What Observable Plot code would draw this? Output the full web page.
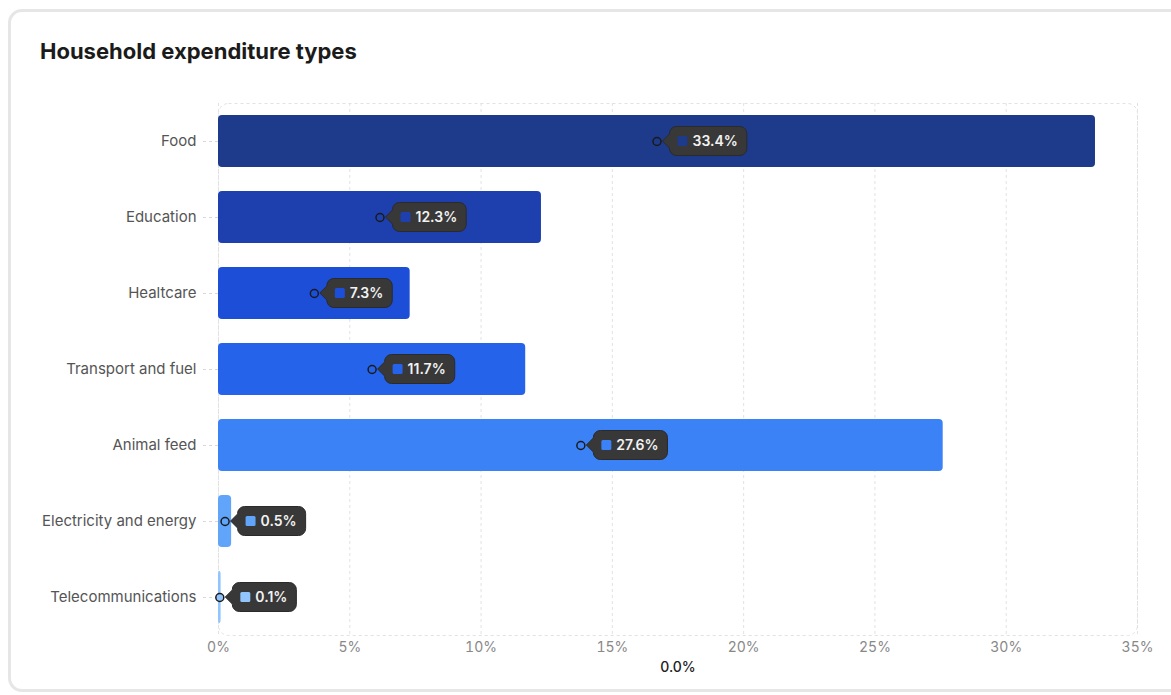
<!DOCTYPE html>
<html><head><meta charset="utf-8">
<script src="https://cdn.jsdelivr.net/npm/d3@7"></script>
<script src="https://cdn.jsdelivr.net/npm/@observablehq/plot@0.6"></script>
<style>
html,body{margin:0;padding:0;background:#fff;width:1171px;height:695px;overflow:hidden;font-family:Inter,sans-serif}
#card{position:absolute;left:8px;top:9px;width:1200px;height:683px;border:3px solid #e6e6e6;border-radius:14px;box-sizing:border-box}
#title{position:absolute;left:40px;top:37px;font:700 22px Inter,sans-serif;color:#1b1b1b;line-height:28px}
#chart{position:absolute;left:0;top:0}
</style></head><body>
<div id="card"></div>
<div id="title">Household expenditure types</div>
<div id="chart"></div>
<script>
const categories = ["Food", "Education", "Healtcare", "Transport and fuel", "Animal feed", "Electricity and energy", "Telecommunications"];
const values = [33.4, 12.3, 7.3, 11.7, 27.6, 0.5, 0.1];
const colors = ["#1e3a8a", "#1e40af", "#1d4ed8", "#2563eb", "#3b82f6", "#60a5fa", "#93c5fd"];
const xTicks = [0, 5, 10, 15, 20, 25, 30, 35];
const axisLabel = "0.0%";

const data = categories.map((c, i) => ({category: c, value: values[i], color: colors[i]}));

function tooltips(index, scales) {
  const x = scales.x, y = scales.y;
  const bw = y.bandwidth ? y.bandwidth() : 0;
  const g = d3.create("svg:g");
  const ctx = document.createElement("canvas").getContext("2d");
  ctx.font = "600 14px Inter";
  for (const d of data) {
    const cx = x(d.value / 2), cy = y(d.category) + bw / 2;
    const label = d.value.toFixed(1) + "%";
    const tw = ctx.measureText(label).width;
    const x0 = cx + 13, w = 8 + 10 + 5 + tw + 9, h = 29, r = 7, y0 = cy - h / 2;
    const p = d3.path();
    p.moveTo(cx + 6, cy);
    p.lineTo(x0, cy - 7);
    p.lineTo(x0, y0 + r);
    p.arcTo(x0, y0, x0 + r, y0, r);
    p.lineTo(x0 + w - r, y0);
    p.arcTo(x0 + w, y0, x0 + w, y0 + r, r);
    p.lineTo(x0 + w, y0 + h - r);
    p.arcTo(x0 + w, y0 + h, x0 + w - r, y0 + h, r);
    p.lineTo(x0 + r, y0 + h);
    p.arcTo(x0, y0 + h, x0, y0 + h - r, r);
    p.lineTo(x0, cy + 7);
    p.closePath();
    g.append("path").attr("d", p.toString()).attr("fill", "#383838").attr("stroke", "#2a2a2a").attr("stroke-width", 1);
    g.append("rect").attr("x", x0 + 8).attr("y", cy - 5).attr("width", 10).attr("height", 10).attr("rx", 1.5).attr("fill", d.color);
    g.append("text").attr("x", x0 + 23).attr("y", cy).attr("dy", "0.35em").attr("text-anchor", "start")
      .attr("fill", "#f2f2f2").attr("font-size", 14).attr("font-weight", 600).attr("font-family", "Inter").text(label);
  }
  return g.node();
}

const chart = Plot.plot({
  width: 1171,
  height: 695,
  marginLeft: 218,
  marginRight: 34,
  marginTop: 103,
  marginBottom: 60,
  style: {fontFamily: "Inter, sans-serif", background: "transparent"},
  x: {domain: [0, 35]},
  y: {domain: categories, paddingInner: 0.316, paddingOuter: 0.158},
  color: {type: "identity"},
  marks: [
    Plot.gridX(xTicks, {stroke: "#e2e2e2", strokeOpacity: 1, strokeDasharray: "3,3"}),
    Plot.frame({stroke: "#e2e2e2", strokeDasharray: "3,3", rx: 10}),
    Plot.axisX(xTicks, {tickSize: 0, tickPadding: 7, tickFormat: d => d + "%", fontSize: 14, fill: "#888", label: null}),
    Plot.axisY({tickSize: 18, tickPadding: 4, fontSize: 15, fill: "#555", stroke: "#d8d8d8", strokeDasharray: "3,3", label: null}),
    Plot.barX(data, {x: "value", y: "category", fill: "color", rx: 4}),
    Plot.dot(data, {x: d => d.value / 2, y: "category", r: 4, fill: "color", stroke: "#1a1a1a", strokeWidth: 1.5}),
    tooltips,
    Plot.text([axisLabel], {text: d => d, frameAnchor: "bottom", dy: 36, fontSize: 14, fontWeight: 500, fill: "#222"})
  ]
});
document.getElementById("chart").append(chart);
</script>
</body></html>
